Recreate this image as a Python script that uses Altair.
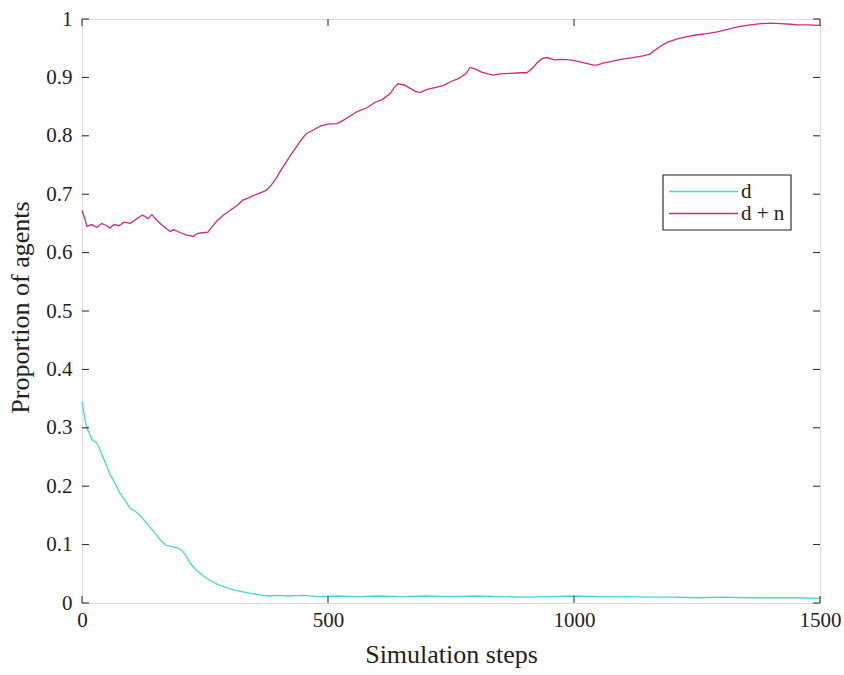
import altair as alt
import pandas as pd

# d + n series (step, proportion)
dn_steps = [0, 5, 10, 20, 30, 40, 50, 57, 65, 75, 85, 98, 110, 122, 128, 134, 142, 150, 160, 170,
            179, 186, 193, 200, 212, 226, 235, 245, 256, 265, 275, 287, 297, 307, 317, 327, 340, 352,
            365, 375, 385, 395, 405, 415, 425, 435, 443, 455, 470, 485, 500, 518, 530, 545, 560, 579,
            595, 610, 626, 634, 642, 655, 665, 678, 687, 700, 715, 734, 750, 765, 780, 789, 800, 812,
            825, 836, 850, 870, 890, 904, 915, 925, 935, 945, 960, 975, 990, 998, 1010, 1025, 1040,
            1047, 1060, 1075, 1090, 1105, 1120, 1140, 1154, 1165, 1175, 1189, 1210, 1230, 1250, 1270,
            1291, 1310, 1330, 1358, 1380, 1400, 1420, 1440, 1453, 1475, 1500]
dn_vals = [0.672, 0.66, 0.645, 0.648, 0.643, 0.65, 0.646, 0.642, 0.648, 0.646, 0.652, 0.65, 0.657,
           0.664, 0.662, 0.658, 0.665, 0.657, 0.649, 0.642, 0.636, 0.639, 0.637, 0.634, 0.63, 0.628,
           0.633, 0.634, 0.635, 0.645, 0.655, 0.664, 0.67, 0.676, 0.682, 0.69, 0.694, 0.699, 0.703,
           0.707, 0.716, 0.728, 0.742, 0.755, 0.768, 0.78, 0.79, 0.803, 0.81, 0.817, 0.82, 0.821,
           0.826, 0.834, 0.842, 0.848, 0.857, 0.862, 0.872, 0.882, 0.889, 0.887, 0.882, 0.876, 0.874,
           0.879, 0.882, 0.886, 0.893, 0.898, 0.906, 0.917, 0.914, 0.909, 0.906, 0.904, 0.906, 0.907,
           0.908, 0.908, 0.915, 0.925, 0.932, 0.934, 0.93, 0.931, 0.93, 0.929, 0.927, 0.924, 0.921,
           0.921, 0.925, 0.927, 0.93, 0.932, 0.934, 0.937, 0.94, 0.947, 0.953, 0.96, 0.966, 0.97,
           0.973, 0.975, 0.978, 0.982, 0.986, 0.99, 0.992, 0.993, 0.992, 0.991, 0.99, 0.99, 0.989]

# d series
d_steps = [0, 3, 7, 10, 15, 20, 30, 40, 50, 57, 67, 77, 88, 98, 108, 118, 128, 138, 150, 159, 170,
           185, 195, 203, 212, 220, 230, 240, 250, 260, 275, 295, 310, 327, 345, 362, 380, 396, 420,
           450, 480, 520, 560, 600, 650, 700, 750, 800, 850, 900, 950, 1000, 1050, 1100, 1150, 1200,
           1250, 1300, 1350, 1400, 1450, 1500]
d_vals = [0.345, 0.33, 0.31, 0.30, 0.29, 0.28, 0.274, 0.255, 0.235, 0.22, 0.205, 0.188, 0.175, 0.162,
          0.157, 0.15, 0.14, 0.13, 0.118, 0.108, 0.099, 0.096, 0.094, 0.09, 0.08, 0.068, 0.058, 0.051,
          0.044, 0.039, 0.032, 0.026, 0.022, 0.019, 0.016, 0.014, 0.012, 0.013, 0.012, 0.013, 0.011,
          0.012, 0.011, 0.012, 0.011, 0.012, 0.011, 0.012, 0.011, 0.01, 0.011, 0.012, 0.011, 0.011,
          0.01, 0.01, 0.009, 0.01, 0.009, 0.009, 0.009, 0.008]

series_names = ["d", "d + n"]
series_colors = ["#3fdad4", "#d8277a"]

x_ticks = [0, 500, 1000, 1500]
y_ticks = [0, 0.1, 0.2, 0.3, 0.4, 0.5, 0.6, 0.7, 0.8, 0.9, 1]

W, H = 738, 584
FONT = "Liberation Serif"
INK = "#222222"

df = pd.concat([
    pd.DataFrame({"step": d_steps, "value": d_vals, "series": series_names[0]}),
    pd.DataFrame({"step": dn_steps, "value": dn_vals, "series": series_names[1]}),
])

xscale = alt.Scale(domain=[0, 1500], nice=False, zero=False)
yscale = alt.Scale(domain=[0, 1], nice=False)
cscale = alt.Scale(domain=series_names, range=series_colors)

lines = alt.Chart(df).mark_line(strokeWidth=1.3).encode(
    x=alt.X("step:Q", scale=xscale,
            axis=alt.Axis(title="Simulation steps", values=x_ticks, format="d", ticks=False,
                          domain=False, grid=False, labelPadding=6, labelFontSize=21,
                          labelFlush=False, labelOverlap=False,
                          labelFont=FONT, labelColor=INK, titleFont=FONT, titleFontSize=26,
                          titleFontWeight="normal", titleColor=INK, titleY=51,
                          titleBaseline="middle")),
    y=alt.Y("value:Q", scale=yscale,
            axis=alt.Axis(title="Proportion of agents", values=y_ticks, ticks=False, domain=False,
                          grid=False, labelPadding=10, labelFontSize=21, labelFont=FONT,
                          labelFlush=False, labelOverlap=False,
                          labelColor=INK, titleFont=FONT, titleFontSize=26,
                          titleFontWeight="normal", titleColor=INK, titleX=-62, titleY=288,
                          titleAngle=270, titleBaseline="middle",
                          labelExpr="datum.value == 0 ? '0' : datum.value == 1 ? '1' : format(datum.value, '.1f')")),
    color=alt.Color("series:N", scale=cscale, legend=None),
    detail="series:N",
)

xt = pd.DataFrame({"t": x_ticks})
yt = pd.DataFrame({"t": y_ticks})

xb = alt.Chart(xt).mark_rule(color=INK, strokeWidth=1).encode(
    x=alt.X("t:Q", scale=xscale), y=alt.value(H), y2=alt.value(H - 7))
xtop = alt.Chart(xt).mark_rule(color=INK, strokeWidth=1).encode(
    x=alt.X("t:Q", scale=xscale), y=alt.value(0), y2=alt.value(7))
yl = alt.Chart(yt).mark_rule(color=INK, strokeWidth=1).encode(
    y=alt.Y("t:Q", scale=yscale), x=alt.value(0), x2=alt.value(7))
yr = alt.Chart(yt).mark_rule(color=INK, strokeWidth=1).encode(
    y=alt.Y("t:Q", scale=yscale), x=alt.value(W), x2=alt.value(W - 7))

# legend box (drawn manually for MATLAB-like compact layout)
LX0, LX1, LY0, LY1 = 581, 709, 156, 211
box = alt.Chart(pd.DataFrame({"k": [0]})).mark_rect(
    fill="white", stroke=INK, strokeWidth=1.1).encode(
    x=alt.value(LX0), x2=alt.value(LX1), y=alt.value(LY0), y2=alt.value(LY1))
leg_layers = [box]
for i, name in enumerate(series_names):
    ypos = 172.5 + 22 * i
    sub = alt.Chart(pd.DataFrame({"series": [name]}))
    leg_layers.append(sub.mark_rule(strokeWidth=1.4).encode(
        x=alt.value(587), x2=alt.value(656), y=alt.value(ypos),
        color=alt.Color("series:N", scale=cscale, legend=None)))
    leg_layers.append(sub.mark_text(align="left", baseline="middle", font=FONT, fontSize=21,
                                    color=INK).encode(
        x=alt.value(659), y=alt.value(ypos), text="series:N"))

chart = alt.layer(lines, xb, xtop, yl, yr, *leg_layers).properties(
    width=W, height=H,
    autosize=alt.AutoSizeParams(type="none"),
    padding={"left": 82, "top": 19, "right": 24, "bottom": 72},
    background="white",
).configure_view(stroke=INK, strokeWidth=1.2).configure(font=FONT)

chart.save("out.html", embed_options={"renderer": "svg", "actions": False})
